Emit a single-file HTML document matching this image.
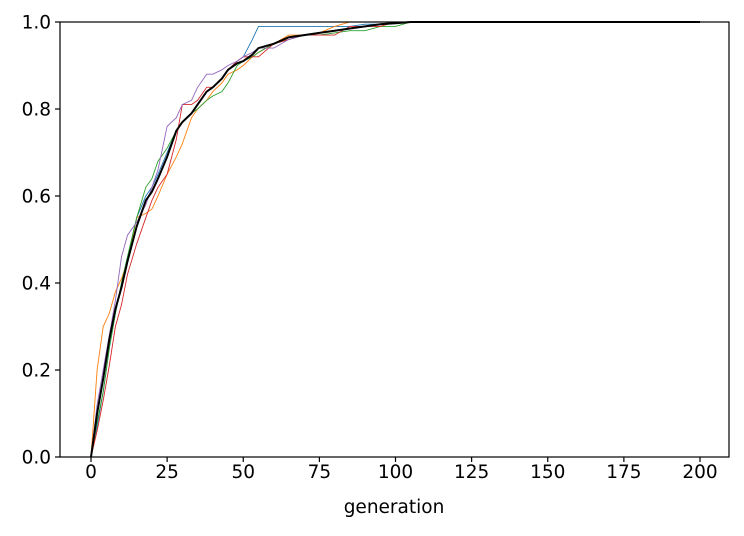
<!DOCTYPE html>
<html><head><meta charset="utf-8"><style>
body{margin:0;background:#fff;}
svg text{font-family:"DejaVu Sans","Liberation Sans",sans-serif;font-size:18.5px;fill:#000;}
</style></head><body>
<svg id="chart" width="744" height="531" xmlns="http://www.w3.org/2000/svg"></svg>
<script>
const gens=[0,2,4,6,8,10,12,15,18,20,22,25,28,30,33,35,38,40,43,45,48,50,53,55,60,65,70,75,80,85,90,95,100,105,110,200];
const blue  =[0,.07,.15,.25,.33,.4,.46,.55,.6,.62,.65,.7,.75,.77,.79,.81,.84,.85,.87,.89,.91,.92,.96,.99,.99,.99,.99,.99,.99,.99,.995,.995,1,1,1,1];
const orange=[0,.2,.3,.33,.38,.41,.45,.55,.56,.57,.6,.65,.69,.72,.78,.8,.82,.84,.86,.88,.89,.9,.92,.93,.95,.97,.97,.975,.99,1,1,1,1,1,1,1];
const green =[0,.08,.15,.25,.33,.4,.46,.55,.62,.64,.68,.71,.75,.77,.79,.8,.82,.83,.84,.86,.9,.91,.92,.93,.95,.96,.97,.97,.975,.98,.98,.99,.99,1,1,1];
const red   =[0,.06,.13,.21,.3,.35,.42,.49,.55,.59,.62,.65,.73,.81,.81,.82,.85,.85,.87,.89,.91,.92,.92,.92,.95,.96,.97,.97,.97,.99,.99,.99,1,1,1,1];
const purple=[0,.12,.2,.28,.36,.46,.51,.54,.58,.62,.66,.76,.78,.81,.82,.85,.88,.88,.89,.9,.91,.92,.93,.94,.94,.96,.97,.975,.98,.985,.99,.995,1,1,1,1];
const mean  =[0,.1,.18,.27,.34,.39,.45,.53,.59,.61,.64,.69,.75,.77,.79,.81,.84,.85,.87,.89,.905,.91,.925,.94,.95,.965,.97,.975,.98,.985,.99,.995,.997,1,1,1];
const xTicks=[0,25,50,75,100,125,150,175,200];
const yTicks=[0,0.2,0.4,0.6,0.8,1.0];
const L=60,R=729,T=22,B=457;
const xs=v=>91+v*(700-91)/200;
const ys=v=>B-v*(B-T);
const svg=document.getElementById('chart');
const NS='http://www.w3.org/2000/svg';
function mk(tag,attrs){const e=document.createElementNS(NS,tag);for(const k in attrs)e.setAttribute(k,attrs[k]);svg.appendChild(e);return e;}
function linePath(d){let p='';gens.forEach((g,i)=>{p+=(i?' L':'M')+xs(g).toFixed(1)+','+ys(d[i]).toFixed(1);});return p;}
const series=[[blue,'#1f77b4','series-run-1'],[orange,'#ff7f0e','series-run-2'],[green,'#2ca02c','series-run-3'],[red,'#d62728','series-run-4'],[purple,'#9467bd','series-run-5']];
for(const [d,c,n] of series){
  const e=mk('path',{d:linePath(d),fill:'none',stroke:c,'stroke-width':0.9});
  
  
}
{
  const e=mk('path',{d:linePath(mean),fill:'none',stroke:'#000','stroke-width':2});
  
  
}
const fr=mk('rect',{x:L,y:T,width:R-L,height:B-T,fill:'none',stroke:'#000','stroke-width':1.2});


for(const t of xTicks){
  const l=mk('line',{x1:xs(t),x2:xs(t),y1:B,y2:B+5,stroke:'#000','stroke-width':1.2});
  
  
  const tx=mk('text',{x:xs(t),y:B+21,'text-anchor':'middle'});tx.textContent=t;
  
  
}
for(const t of yTicks){
  const l=mk('line',{x1:L-5,x2:L,y1:ys(t),y2:ys(t),stroke:'#000','stroke-width':1.2});
  
  
  const tx=mk('text',{x:L-9,y:ys(t)+6.5,'text-anchor':'end'});tx.textContent=t.toFixed(1);
  
  
}
const xl=mk('text',{x:394,y:513,'text-anchor':'middle'});xl.textContent='generation';


</script>
</body></html>
